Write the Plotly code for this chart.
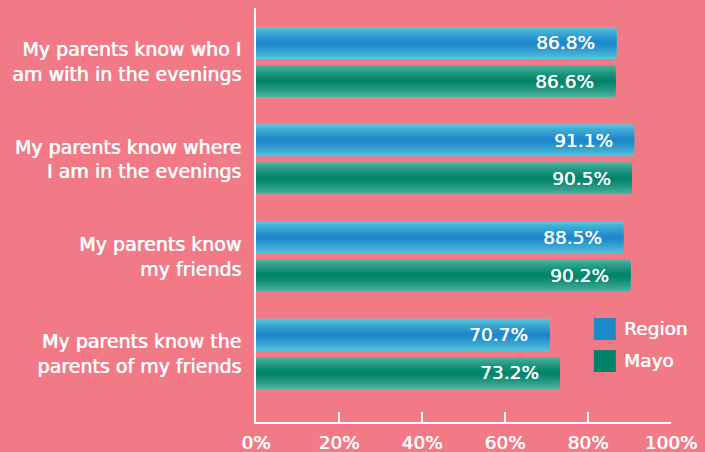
import plotly.graph_objects as go

# Survey items (top to bottom) and the share agreeing, in percent
categories = [
    "My parents know who I<br>am with in the evenings",
    "My parents know where<br>I am in the evenings",
    "My parents know<br>my friends",
    "My parents know the<br>parents of my friends",
]
region_values = [86.8, 91.1, 88.5, 70.7]
mayo_values = [86.6, 90.5, 90.2, 73.2]
x_ticks = [0, 20, 40, 60, 80, 100]
x_tick_labels = ["0%", "20%", "40%", "60%", "80%", "100%"]

BG = "#F27A87"
FONT = "DejaVu Sans"
# a slight horizontal shadow gives the regular face a semibold look
TXT = dict(family=FONT, size=18.5, color="white", shadow="0.6px 0px 0px white")
CAT_TXT = dict(TXT, size=19)

# Edge and centre colours for the cylindrical shading of each series
series = [
    dict(name="Region", values=region_values, edge=(86, 198, 220), centre=(30, 134, 202),
         offset=-0.36, solid="#1E88C8"),
    dict(name="Mayo", values=mayo_values, edge=(78, 180, 162), centre=(0, 131, 104),
         offset=0.031, solid="#00826A"),
]
BAR_W = 0.329
LAYERS = 14


def mix(a, b, t):
    return "rgb(%d,%d,%d)" % tuple(round(a[i] + (b[i] - a[i]) * t) for i in range(3))


fig = go.Figure()
pos = list(range(len(categories)))

for s in series:
    # stack progressively narrower, darker bars to build a vertical gradient
    for k in range(LAYERS):
        frac = 1 - k / LAYERS
        w = BAR_W * frac
        off = s["offset"] + (BAR_W - w) / 2
        t = (k / (LAYERS - 1)) ** 0.8
        fig.add_trace(go.Bar(
            x=s["values"], y=pos, orientation="h",
            offset=off, width=w,
            marker=dict(color=mix(s["edge"], s["centre"], t), line=dict(width=0)),
            showlegend=False, hoverinfo="skip" if k else "x",
            name=s["name"],
        ))
    # value labels inside the bar end
    for i, v in enumerate(s["values"]):
        fig.add_annotation(
            x=v, y=i + s["offset"] + BAR_W / 2, xref="x", yref="y",
            text=f"{v:.1f}%", showarrow=False, xanchor="right", yanchor="middle",
            xshift=-19, font=TXT,
        )

# legend drawn as swatches with labels
for j, s in enumerate(series):
    y0 = 0.198 - j * 0.0773
    fig.add_shape(type="rect", xref="paper", yref="paper",
                  x0=0.814, x1=0.867, y0=y0, y1=y0 + 0.053,
                  fillcolor=s["solid"], line=dict(width=0))
    fig.add_annotation(xref="paper", yref="paper", x=0.882, y=y0 + 0.027,
                       text=s["name"], showarrow=False, xanchor="left", yanchor="middle",
                       font=TXT)

fig.update_layout(
    width=705, height=452,
    margin=dict(l=256, r=34, t=8, b=30),
    paper_bgcolor=BG, plot_bgcolor=BG,
    barmode="overlay",
    showlegend=False,
    font=TXT,
    xaxis=dict(
        range=[0, 100], tickvals=x_ticks, ticktext=x_tick_labels,
        ticks="inside", ticklen=10, tickwidth=1.5, tickcolor="white",
        showline=True, linecolor="white", linewidth=2,
        showgrid=False, zeroline=False, fixedrange=True,
        ticklabelstandoff=3, tickfont=TXT, automargin=False,
    ),
    yaxis=dict(
        range=[3.70, -0.555], tickvals=pos, ticktext=categories,
        ticks="", showline=True, linecolor="white", linewidth=2,
        showgrid=False, zeroline=False, ticklabelstandoff=9,
        tickfont=CAT_TXT, automargin=False,
    ),
)

fig.write_html("out.html")
